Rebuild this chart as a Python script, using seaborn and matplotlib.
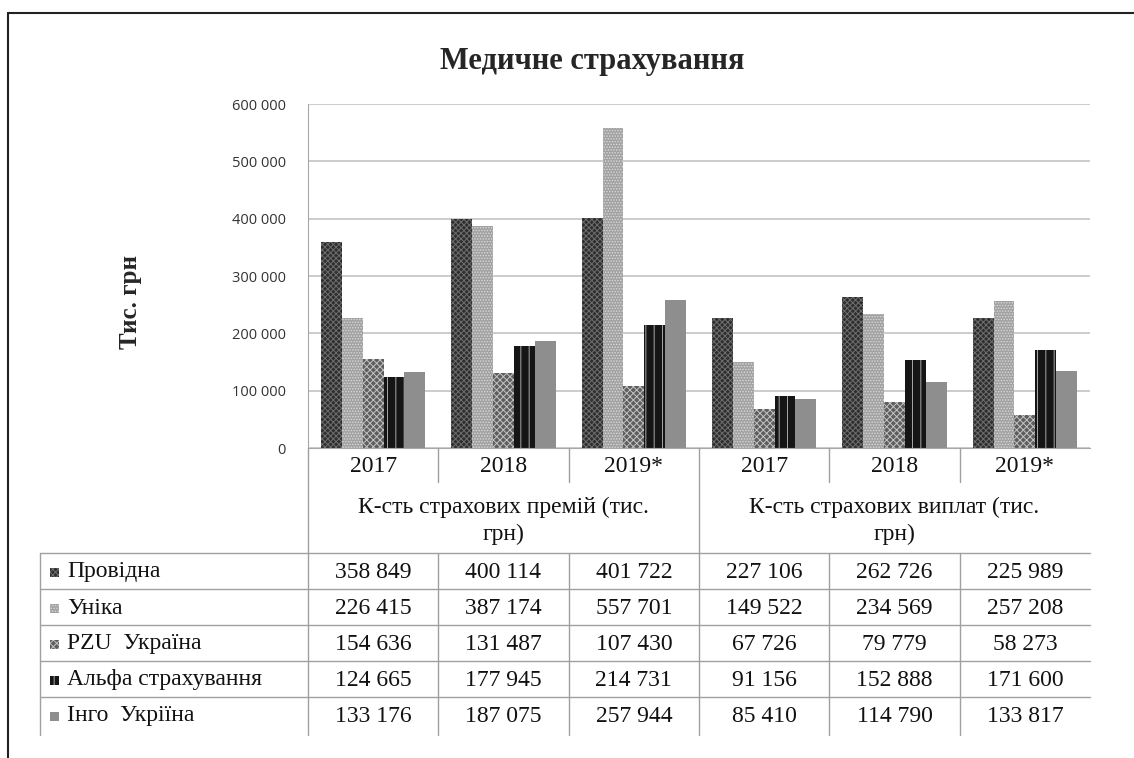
import numpy as np
import pandas as pd
import matplotlib
matplotlib.use('Agg')
import matplotlib.pyplot as plt
import matplotlib.transforms as mtransforms
from matplotlib.patches import Rectangle
from matplotlib.lines import Line2D
from matplotlib.ticker import FuncFormatter
import seaborn as sns

# дані
companies = ['Провідна', 'Уніка', 'PZU  Україна', 'Альфа страхування', 'Інго  Укріїна']
years = ['2017', '2018', '2019*']
groups = ['К-сть страхових премій (тис.\nгрн)', 'К-сть страхових виплат (тис.\nгрн)']
providna = [358849, 400114, 401722, 227106, 262726, 225989]
unika = [226415, 387174, 557701, 149522, 234569, 257208]
pzu = [154636, 131487, 107430, 67726, 79779, 58273]
alfa = [124665, 177945, 214731, 91156, 152888, 171600]
ingo = [133176, 187075, 257944, 85410, 114790, 133817]

cats = [g + ' ' + y for g in ['p', 'v'] for y in years]
series = [providna, unika, pzu, alfa, ingo]
rows = []
for name, vals in zip(companies, series):
    for c, v in zip(cats, vals):
        rows.append({'cat': c, 'company': name, 'value': v})
df = pd.DataFrame(rows)

# стилі
faces = ['#2e2e2e', '#a2a2a2', '#5e5e5e', '#151515', '#8e8e8e']
hcols = ['#6e6e6e', '#d8d8d8', '#c4c4c4', '#a8a8a8', '#8e8e8e']
hatches = ['xxxxxx', '......', 'xxxxx', '||', None]

sns.set_style('white')
plt.rcParams['hatch.linewidth'] = 0.7
W, H = 1134, 758
fig = plt.figure(figsize=(W / 100, H / 100), dpi=100)
ax = fig.add_axes([308 / W, 1 - 448 / H, (1090 - 308) / W, (448 - 104) / H])

sns.barplot(data=df, x='cat', y='value', hue='company', order=cats,
            hue_order=companies, palette=faces, width=0.8, legend=False, ax=ax)
for cont, fc, hc, ht in zip(ax.containers, faces, hcols, hatches):
    for bar in cont:
        bar.set_facecolor(fc)
        bar.set_edgecolor(hc)
        bar.set_linewidth(0)
        if ht:
            bar.set_hatch(ht)

ax.set_xlim(-0.5, 5.5)
ax.set_ylim(0, 600000)
ax.set_yticks(np.arange(0, 600001, 100000))
ax.yaxis.set_major_formatter(FuncFormatter(lambda v, p: f'{int(v):,}'.replace(',', ' ')))
ax.tick_params(axis='y', labelsize=10.5, colors='#333333', length=0, pad=16)
for lab in ax.get_yticklabels():
    lab.set_family('Open Sans')
ax.set_xticks([])
ax.set_xlabel('')
ax.set_ylabel('')
ax.grid(axis='y', color='#c4c4c4', lw=1.2)
ax.set_axisbelow(True)
for s in ['top', 'right']:
    ax.spines[s].set_visible(False)
ax.spines['left'].set_color('#a8a8a8')
ax.spines['bottom'].set_color('#a8a8a8')

fig.text(592 / W, 1 - 62 / H, 'Медичне страхування', ha='center', va='center',
         family='Liberation Serif', fontweight='bold', fontsize=22)
fig.text(130 / W, 1 - 302 / H, 'Тис. грн', ha='center', va='center', rotation=90,
         family='Liberation Serif', fontweight='bold', fontsize=18)

# таблиця під графіком
tr = mtransforms.blended_transform_factory(ax.transData, fig.transFigure)
ff = fig.transFigure
lc = '#a0a0a0'
py = lambda p: 1 - p / H
tfont = dict(family='Liberation Serif', fontsize=17, color='#111111')

for i in range(6):
    x0 = i - 0.5
    if i in (0, 3):
        fig.add_artist(Line2D([x0, x0], [py(448), py(735)], transform=tr, color=lc, lw=1))
    else:
        fig.add_artist(Line2D([x0, x0], [py(448), py(482)], transform=tr, color=lc, lw=1))
        fig.add_artist(Line2D([x0, x0], [py(553), py(735)], transform=tr, color=lc, lw=1))
    fig.text(i, py(466), years[i % 3], transform=tr, ha='center', va='center', **tfont)

for g, lab in enumerate(groups):
    fig.text(1 + 3 * g, py(521), lab, transform=tr, ha='center', va='center',
             linespacing=1.35, **tfont)

fig.add_artist(Line2D([40 / W, 40 / W], [py(553), py(735)], transform=ff, color=lc, lw=1))
row_y = [553, 589, 625, 661, 697]
for r, (name, vals) in enumerate(zip(companies, series)):
    y0 = row_y[r]
    fig.add_artist(Line2D([40 / W, 1090 / W], [py(y0), py(y0)], transform=ff, color=lc, lw=1))
    yc = py(y0 + 19)
    key = Rectangle((50 / W, yc - 4.5 / H), 9 / W, 9 / H, transform=ff,
                    facecolor=faces[r], edgecolor=hcols[r], lw=0, hatch=hatches[r])
    fig.add_artist(key)
    fig.text(67 / W, yc, name, transform=ff, ha='left', va='center', **tfont)
    for i, v in enumerate(vals):
        fig.text(i, yc, f'{v:,}'.replace(',', ' '), transform=tr, ha='center',
                 va='center', **tfont)

# рамка
fig.add_artist(Line2D([8 / W, 1], [py(13), py(13)], transform=ff, color='#222222', lw=1.5))
fig.add_artist(Line2D([8 / W, 8 / W], [py(13), 0], transform=ff, color='#222222', lw=1.5))

fig.savefig('out.png', dpi=100)
